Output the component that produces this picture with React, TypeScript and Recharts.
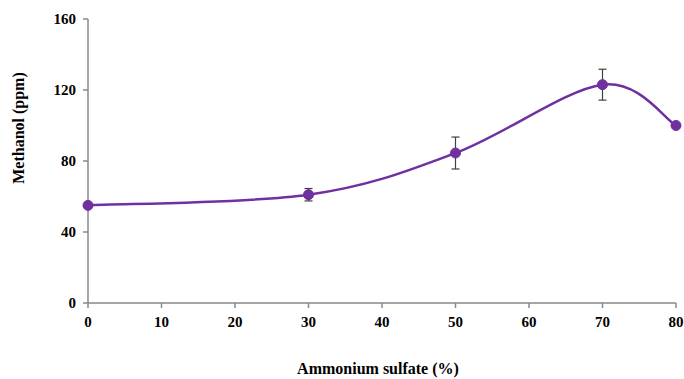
import React from 'react';
import { LineChart, Line, XAxis, YAxis, ErrorBar, Label } from 'recharts';

const sulfate = [0, 30, 50, 70, 80];
const methanol = [55, 61, 84.5, 123, 100];
const methanolErr = [0, 3.5, 9, 8.7, 0];
const xTicks = [0, 10, 20, 30, 40, 50, 60, 70, 80];
const yTicks = [0, 40, 80, 120, 160];

const data = sulfate.map((x, i) => ({ x, y: methanol[i], err: methanolErr[i] }));

// Excel-like smoothed line (Catmull-Rom through the points)
const smoothCurve = (context: any) => {
  let pts: number[][] = [];
  return {
    areaStart() {},
    areaEnd() {},
    lineStart() { pts = []; },
    point(x: number, y: number) { pts.push([+x, +y]); },
    lineEnd() {
      if (!pts.length) return;
      context.moveTo(pts[0][0], pts[0][1]);
      for (let i = 0; i < pts.length - 1; i++) {
        const p0 = pts[i - 1] || pts[i];
        const p1 = pts[i];
        const p2 = pts[i + 1];
        const p3 = pts[i + 2] || p2;
        context.bezierCurveTo(
          p1[0] + (p2[0] - p0[0]) / 6, p1[1] + (p2[1] - p0[1]) / 6,
          p2[0] - (p3[0] - p1[0]) / 6, p2[1] - (p3[1] - p1[1]) / 6,
          p2[0], p2[1]
        );
      }
    },
  };
};

const font = '"Liberation Serif", "Times New Roman", serif';
const tickStyle = { fill: '#000', fontSize: 15, fontWeight: 'bold', fontFamily: font };
const labelStyle = { fill: '#000', fontSize: 16, fontWeight: 'bold', fontFamily: font } as const;

export default function App() {
  return (
    <div style={{ position: 'absolute', left: 0, top: 0, width: 684, height: 379, background: '#fff' }}>
      <LineChart width={684} height={379} data={data} margin={{ top: 19, right: 8, bottom: 0, left: 28 }}>
        <XAxis
          type="number"
          dataKey="x"
          domain={[0, 80]}
          ticks={xTicks}
          stroke="#898989"
          strokeWidth={1.5}
          tickSize={5}
          tickMargin={8}
          tick={tickStyle}
          height={76}
        >
          <Label
            content={() => (
              <text x={378} y={374} textAnchor="middle" style={labelStyle}>
                Ammonium sulfate (%)
              </text>
            )}
          />
        </XAxis>
        <YAxis
          type="number"
          domain={[0, 160]}
          ticks={yTicks}
          stroke="#898989"
          strokeWidth={1.5}
          tickSize={5}
          tickMargin={7}
          tick={tickStyle}
          width={60}
        >
          <Label
            content={() => (
              <text x={24} y={128} transform="rotate(-90 24 128)" textAnchor="middle" style={labelStyle}>
                Methanol (ppm)
              </text>
            )}
          />
        </YAxis>
        <Line
          dataKey="y"
          type={smoothCurve as any}
          stroke="#7030A0"
          strokeWidth={2.5}
          dot={{ r: 5, fill: '#7030A0', stroke: '#7030A0', strokeWidth: 1 }}
          activeDot={false}
          isAnimationActive={false}
        >
          <ErrorBar dataKey="err" direction="y" width={4} stroke="#404040" strokeWidth={1.2} />
        </Line>
      </LineChart>
    </div>
  );
}
